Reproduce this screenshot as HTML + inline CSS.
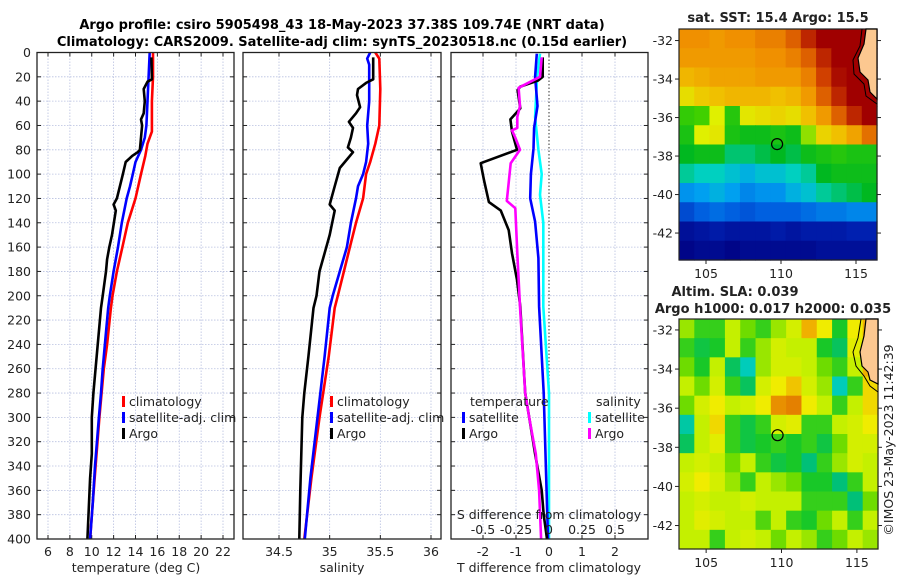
<!DOCTYPE html>
<html><head><meta charset="utf-8">
<style>
html,body{margin:0;padding:0;background:#fff;}
svg{display:block;font-family:"DejaVu Sans","Liberation Sans",sans-serif;}
</style></head>
<body>
<svg id="fig" width="900" height="580" viewBox="0 0 900 580" xmlns="http://www.w3.org/2000/svg">
<rect width="900" height="580" fill="#fff"/>
<text x="342" y="29" text-anchor="middle" font-size="13" font-weight="bold">Argo profile: csiro 5905498_43 18-May-2023 37.38S 109.74E (NRT data)</text>
<text x="342" y="46" text-anchor="middle" font-size="13" font-weight="bold">Climatology: CARS2009. Satellite-adj clim: synTS_20230518.nc (0.15d earlier)</text>
<g id="root"></g>
</svg>
<script>
// ---------- profile data ----------
const tClimDepth=[0,20,40,65,75,85,100,120,140,160,180,200,210,240,260,280,300,340,370,400];
const tClimVal=[15.6,15.6,15.5,15.5,15.1,14.9,14.5,14.0,13.3,12.8,12.3,11.9,11.75,11.4,11.1,10.9,10.7,10.35,10.1,9.85];
const tSatDepth=[0,20,40,60,70,80,90,100,110,120,140,160,180,200,210,240,260,280,300,340,370,400];
const tSatVal=[15.3,15.2,15.1,15.0,14.85,14.5,14.0,13.75,13.5,13.2,12.75,12.4,12.0,11.65,11.5,11.2,11.0,10.85,10.65,10.3,10.1,9.85];
const tArgoDepth=[4,22,24,30,40,50,55,60,70,80,82,85,90,100,120,125,130,150,160,170,180,200,210,280,300,330,350,380,400];
const tArgoVal=[15.45,15.5,15.1,14.75,14.85,14.75,14.5,14.6,14.5,14.4,14.2,13.7,13.1,12.85,12.3,12.0,12.2,11.85,11.6,11.4,11.3,11.0,10.85,10.15,10.0,10.0,9.85,9.7,9.6];

const sClimDepth=[0,5,30,60,75,90,100,120,140,160,180,200,210,250,300,350,400];
const sClimVal=[35.45,35.49,35.5,35.49,35.45,35.40,35.36,35.33,35.26,35.2,35.14,35.08,35.05,34.99,34.9,34.82,34.75];
const sSatDepth=[0,5,10,40,60,75,90,100,110,120,140,160,180,200,210,250,300,350,400];
const sSatVal=[35.4,35.37,35.39,35.39,35.37,35.38,35.36,35.33,35.28,35.26,35.21,35.17,35.1,35.03,35.0,34.95,34.88,34.81,34.755];
const sArgoDepth=[4,22,25,30,35,45,50,57,62,70,78,82,88,95,110,125,130,150,165,180,200,210,250,280,300,330,360,400];
const sArgoVal=[35.43,35.43,35.36,35.28,35.27,35.3,35.26,35.19,35.23,35.21,35.18,35.23,35.17,35.1,35.05,35.0,35.05,35.0,34.95,34.9,34.87,34.84,34.79,34.75,34.73,34.72,34.71,34.7];

const dTArgoDepth=[4,20,23,28,31,46,55,65,80,91,105,123,130,146,165,187,209,280,300,330,360,380,400];
const dTArgoVal=[-0.19,-0.19,-0.33,-0.87,-0.95,-0.87,-1.17,-1.12,-0.97,-2.07,-1.97,-1.82,-1.46,-1.22,-1.12,-0.97,-0.87,-0.72,-0.6,-0.42,-0.22,-0.16,-0.06];
const dSArgoDepth=[4,20,29,44,53,62,64,70,80,91,122,128,165,209,280,300,330,360,400];
const dSArgoVal=[-0.055,-0.068,-0.23,-0.22,-0.24,-0.24,-0.28,-0.255,-0.22,-0.29,-0.32,-0.255,-0.24,-0.22,-0.18,-0.15,-0.1,-0.075,-0.06];
const dTSatDepth=[1,20,44,62,79,100,120,139,169,209,280,400];
const dTSatVal=[-0.37,-0.42,-0.35,-0.45,-0.47,-0.55,-0.57,-0.42,-0.32,-0.3,-0.16,-0.03];
const dSSatDepth=[1,20,53,80,100,117,140,209,280,400];
const dSSatVal=[-0.068,-0.09,-0.105,-0.08,-0.055,-0.068,-0.043,-0.043,0.0,0.0];

const depthTicks=[0,20,40,60,80,100,120,140,160,180,200,220,240,260,280,300,320,340,360,380,400];
const tempTicks=[6,8,10,12,14,16,18,20,22];
const salTicks=[34.5,35,35.5,36];
const tdiffTicks=[-2,-1,0,1,2];
const sdiffTicks=[-0.5,-0.25,0,0.25,0.5];
const sdiffLabels=["-0.5","-0.25","0","0.25","0.5"];

// ---------- map data ----------
const sstValues=[
[17.3,17.3,17.2,17.3,17.3,17.4,17.4,17.6,18.0,18.3,18.3,18.3,18.3],
[17.2,17.2,17.2,17.2,17.2,17.3,17.3,17.4,17.6,18.0,18.3,18.3,18.3],
[16.9,17.0,17.1,17.1,17.1,17.2,17.2,17.2,17.4,17.8,18.2,18.3,18.3],
[16.5,16.7,16.8,16.9,16.9,16.9,16.8,16.9,17.2,17.6,18.0,18.3,18.3],
[15.8,15.9,16.3,15.7,16.4,16.5,16.6,16.5,16.8,17.2,17.6,18.0,18.3],
[15.6,16.3,16.4,15.6,15.5,15.5,15.6,15.5,16.1,16.6,16.8,17.1,17.5],
[15.4,15.5,15.5,15.2,15.2,15.3,15.4,15.3,15.5,15.6,15.7,15.6,15.6],
[15.1,15.0,15.0,14.9,14.8,14.9,14.9,15.0,15.1,15.4,15.5,15.5,15.5],
[14.6,14.7,14.8,14.7,14.5,14.6,14.6,14.8,14.9,15.1,15.2,15.3,15.4],
[14.0,14.2,14.3,14.2,14.1,14.2,14.2,14.2,14.3,14.4,14.4,14.5,14.5],
[13.3,13.4,13.5,13.4,13.4,13.4,13.5,13.4,13.5,13.5,13.5,13.6,13.6],
[13.1,13.2,13.2,13.1,13.2,13.2,13.2,13.2,13.2,13.3,13.3,13.3,13.3]];
const slaValues=[
[0.01,-0.02,-0.02,0.02,0.00,-0.02,0.01,0.03,0.08,0.05,-0.03,0.05,0.08],
[-0.02,-0.04,-0.03,0.02,-0.02,0.01,0.03,0.02,0.02,-0.03,-0.05,0.04,0.08],
[0.0,-0.03,0.02,-0.05,-0.09,0.01,0.03,0.03,0.02,0.0,-0.02,0.02,0.08],
[0.02,0.0,0.03,-0.02,-0.05,0.03,0.05,0.07,0.03,0.01,-0.09,-0.02,0.06],
[0.0,0.03,0.05,0.02,0.03,0.05,0.10,0.11,0.05,0.02,-0.02,0.02,0.06],
[-0.08,0.02,0.06,-0.02,-0.04,-0.02,0.03,0.04,-0.02,-0.02,0.02,0.03,0.05],
[-0.05,0.02,0.04,-0.02,-0.04,-0.03,-0.02,-0.03,-0.02,-0.04,0.0,0.03,0.03],
[0.02,0.03,0.02,0.0,0.02,-0.02,-0.04,-0.03,-0.06,-0.02,0.01,0.03,0.02],
[0.03,0.05,0.03,0.01,-0.02,0.02,0.01,0.0,-0.03,-0.03,-0.06,-0.02,0.02],
[0.02,0.03,0.02,0.02,0.03,0.02,0.02,0.02,-0.02,-0.02,-0.02,-0.06,0.0],
[0.02,0.04,0.03,0.02,0.02,-0.01,0.02,-0.02,-0.03,0.0,0.02,-0.02,0.02],
[0.02,0.02,-0.02,0.02,0.03,0.02,0.0,0.02,0.01,-0.02,0.0,0.02,0.01]];
const lonTicks=[105,110,115];
const latTicks=[-32,-34,-36,-38,-40,-42];
const argoLon=109.74, argoLat=-37.38;

// ---------- helpers ----------
const NS="http://www.w3.org/2000/svg";
const root=document.getElementById('root');
function mk(tag,attrs,parent){const e=document.createElementNS(NS,tag);for(const k in attrs)e.setAttribute(k,attrs[k]);(parent||root).appendChild(e);return e;}
const TOP=52.5,BOT=539;
function yD(d){return TOP+(d/400)*(BOT-TOP);}
function lin(d0,d1,r0,r1){return v=>r0+(v-d0)/(d1-d0)*(r1-r0);}

const panels=[
 {name:'temperature-panel',x0:37,x1:234,fx:lin(6,22,48,223)},
 {name:'salinity-panel',x0:243,x1:441,fx:lin(34.5,36,279,431)},
 {name:'difference-panel',x0:451,x1:648,fx:lin(-1,1,516,582)}
];
panels.forEach((p,i)=>{
 const g=mk('g',{});
 
 
 depthTicks.forEach(d=>{
  if(d>0&&d<400){const l=mk('line',{x1:p.x0,x2:p.x1,y1:yD(d),y2:yD(d),stroke:'#b8c0e0','stroke-width':0.8,'stroke-dasharray':'1.5,1.5'},g);
  }
  mk('line',{x1:p.x0,x2:p.x0+4,y1:yD(d),y2:yD(d),stroke:'#222'},g);
  mk('line',{x1:p.x1-4,x2:p.x1,y1:yD(d),y2:yD(d),stroke:'#222'},g);
 });
 const xt=i===0?tempTicks:(i===1?salTicks:tdiffTicks);
 xt.forEach(v=>{
  const x=p.fx(v);
  if(!(i===2&&v===0)){const l=mk('line',{x1:x,x2:x,y1:TOP,y2:BOT,stroke:'#b8c0e0','stroke-width':0.8,'stroke-dasharray':'1.5,1.5'},g);
  }
  mk('line',{x1:x,x2:x,y1:BOT-4,y2:BOT,stroke:'#222'},g);
  mk('line',{x1:x,x2:x,y1:TOP,y2:TOP+4,stroke:'#222'},g);
  const t=mk('text',{x:x,y:556,'text-anchor':'middle','font-size':12.5,fill:'#222'},g);t.textContent=String(v);
  
 });
 if(i===2){const z=mk('line',{x1:p.fx(0),x2:p.fx(0),y1:TOP,y2:BOT,stroke:'#555','stroke-width':1.2,'stroke-dasharray':'1.5,2'},g);
  }
});
depthTicks.forEach(d=>{
 const t=mk('text',{x:31,y:yD(d)+4.5,'text-anchor':'end','font-size':12.5,fill:'#222'});t.textContent=String(d);
 
});
function series(depths,vals,fx,color,name,w){
 const pts=depths.map((d,k)=>fx(vals[k]).toFixed(1)+','+yD(d).toFixed(1)).join(' ');
 const l=mk('polyline',{points:pts,fill:'none',stroke:color,'stroke-width':w||2.6,'stroke-linejoin':'round'});
 
}
const fT=panels[0].fx,fS=panels[1].fx,fD=panels[2].fx,fSD=v=>fD(v*4);
series(tClimDepth,tClimVal,fT,'#ff0000','temp-climatology-line');
series(tSatDepth,tSatVal,fT,'#0000ff','temp-satellite-line');
series(tArgoDepth,tArgoVal,fT,'#000','temp-argo-line');
series(sClimDepth,sClimVal,fS,'#ff0000','sal-climatology-line');
series(sSatDepth,sSatVal,fS,'#0000ff','sal-satellite-line');
series(sArgoDepth,sArgoVal,fS,'#000','sal-argo-line');
series(dSSatDepth,dSSatVal,fSD,'#00ffff','sdiff-satellite-line');
series(dTSatDepth,dTSatVal,fD,'#0000ff','tdiff-satellite-line');
series(dTArgoDepth,dTArgoVal,fD,'#000','tdiff-argo-line');
series(dSArgoDepth,dSArgoVal,fSD,'#ff00ff','sdiff-argo-line');
panels.forEach(p=>{const r=mk('rect',{x:p.x0,y:TOP,width:p.x1-p.x0,height:BOT-TOP,fill:'none',stroke:'#222','stroke-width':1.3});
 });
sdiffTicks.forEach((v,k)=>{
 const t=mk('text',{x:fSD(v),y:534,'text-anchor':'middle','font-size':12.5,fill:'#222'});t.textContent=sdiffLabels[k];
 
});
function txt(x,y,s,name,opts){const t=mk('text',Object.assign({x:x,y:y,'font-size':12.5,fill:'#222'},opts||{}));t.textContent=s;
 return t;}
txt(549,519,'S difference from climatology','sdiff-axis-title',{'text-anchor':'middle'});
txt(136,572,'temperature (deg C)','temperature-axis-title',{'text-anchor':'middle'});
txt(342,572,'salinity','salinity-axis-title',{'text-anchor':'middle'});
txt(549,572,'T difference from climatology','tdiff-axis-title',{'text-anchor':'middle'});
function legEntry(x,y,color,label,name){
 const g=mk('g',{});
 mk('rect',{x:x,y:y-9,width:3,height:11,fill:color},g);
 const t=mk('text',{x:x+7,y:y+1,'font-size':12.5,fill:'#222'},g);t.textContent=label;
}
legEntry(122,405,'#ff0000','climatology','legend-temp-climatology');
legEntry(122,421,'#0000ff','satellite-adj. clim','legend-temp-satellite');
legEntry(122,437,'#000','Argo','legend-temp-argo');
legEntry(330,405,'#ff0000','climatology','legend-sal-climatology');
legEntry(330,421,'#0000ff','satellite-adj. clim','legend-sal-satellite');
legEntry(330,437,'#000','Argo','legend-sal-argo');
txt(470,406,'temperature','legend-temperature-header');
txt(596,406,'salinity','legend-salinity-header');
legEntry(462,421,'#0000ff','satellite','legend-tdiff-satellite');
legEntry(462,437,'#000','Argo','legend-tdiff-argo');
legEntry(588,421,'#00ffff','satellite','legend-sdiff-satellite');
legEntry(588,437,'#ff00ff','Argo','legend-sdiff-argo');

// ---------- maps ----------
function interpColor(stops,v){
 if(v<=stops[0][0])return stops[0][1];
 for(let k=1;k<stops.length;k++){if(v<=stops[k][0]){const a=stops[k-1],b=stops[k],f=(v-a[0])/(b[0]-a[0]);
  const ca=a[1],cb=b[1];return 'rgb('+[0,1,2].map(j=>Math.round(ca[j]+(cb[j]-ca[j])*f)).join(',')+')';}}
 const c=stops[stops.length-1][1];return 'rgb('+c.join(',')+')';
}
function toRgb(c){return typeof c==='string'?c:'rgb('+c.join(',')+')';}
const sstStops=[[13.0,[0,0,128]],[13.6,[0,32,176]],[14.2,[0,96,224]],[14.7,[0,160,240]],[15.0,[0,208,192]],[15.4,[0,184,32]],[15.9,[64,208,0]],[16.3,[224,240,0]],[16.8,[240,192,0]],[17.3,[240,144,0]],[17.8,[208,64,0]],[18.3,[160,0,0]]];
const slaStops=[[-0.10,[0,208,208]],[-0.06,[0,192,120]],[-0.03,[24,200,40]],[0.0,[110,220,0]],[0.02,[196,240,0]],[0.05,[240,236,0]],[0.08,[240,176,0]],[0.12,[224,112,0]]];
function drawMap(name,vals,stops,x0,x1,y0,y1,lon0,lon1,lat0,lat1){
 const g=mk('g',{});
 const fx=lin(lon0,lon1,x0,x1),fy=lin(lat0,lat1,y0,y1);
 const rows=vals.length,cols=vals[0].length,cw=(x1-x0)/cols,ch=(y1-y0)/rows;
 vals.forEach((row,r)=>row.forEach((v,c)=>{
  const cell=mk('rect',{x:(x0+c*cw).toFixed(2),y:(y0+r*ch).toFixed(2),width:(cw+0.6).toFixed(2),height:(ch+0.6).toFixed(2),fill:toRgb(interpColor(stops,v))},g);
  
 }));
 const fr=mk('rect',{x:x0,y:y0,width:x1-x0,height:y1-y0,fill:'none',stroke:'#222','stroke-width':1.2},g);
 
 latTicks.forEach(v=>{const y=fy(v);mk('line',{x1:x0-4,x2:x0,y1:y,y2:y,stroke:'#222'},g);mk('line',{x1:x1,x2:x1+4,y1:y,y2:y,stroke:'#222'},g);
  const t=mk('text',{x:x0-6,y:y+4.5,'text-anchor':'end','font-size':12.5,fill:'#222'},g);t.textContent=String(v);
  });
 lonTicks.forEach(v=>{const x=fx(v);mk('line',{x1:x,x2:x,y1:y1,y2:y1+4,stroke:'#222'},g);
  const t=mk('text',{x:x,y:y1+18,'text-anchor':'middle','font-size':12.5,fill:'#222'},g);t.textContent=String(v);
  });
 const c=mk('circle',{cx:fx(argoLon),cy:fy(argoLat),r:5.5,fill:'none',stroke:'#000','stroke-width':1.2},g);
 
 return g;
}
drawMap('sst-map',sstValues,sstStops,679,877,29,260,103.2,116.4,-31.4,-43.4);
const land1=mk('path',{d:'M866,29 L864,44 L858,58 L860,72 L868,80 L870,92 L877,99 L877,29 Z',fill:'#fcc890',stroke:'#000','stroke-width':1.2});

const shelf1=mk('path',{d:'M862,29 L860,46 L853,60 L854,74 L864,84 L866,96 L877,104',fill:'none',stroke:'#000','stroke-width':1});

drawMap('sla-map',slaValues,slaStops,679,878,319,549,103.2,116.4,-31.44,-43.2);
const land2=mk('path',{d:'M866,319 L864,336 L860,352 L862,366 L868,372 L870,380 L878,384 L878,319 Z',fill:'#fcc890',stroke:'#000','stroke-width':1.2});

const shelf2=mk('path',{d:'M861,319 L858,338 L853,352 L856,366 L864,376 L870,386 L878,392',fill:'none',stroke:'#000','stroke-width':1});

txt(778,22,'sat. SST: 15.4 Argo: 15.5','sst-map-title',{'text-anchor':'middle','font-weight':'bold','font-size':13});
txt(735,296,'Altim. SLA: 0.039','sla-map-title',{'text-anchor':'middle','font-weight':'bold','font-size':13});
txt(773,313,'Argo h1000: 0.017 h2000: 0.035','argo-height-title',{'text-anchor':'middle','font-weight':'bold','font-size':13});
txt(0,0,'©IMOS 23-May-2023 11:42:39','copyright-label',{'text-anchor':'middle',transform:'translate(893,440) rotate(-90)'});
</script>
</body></html>
